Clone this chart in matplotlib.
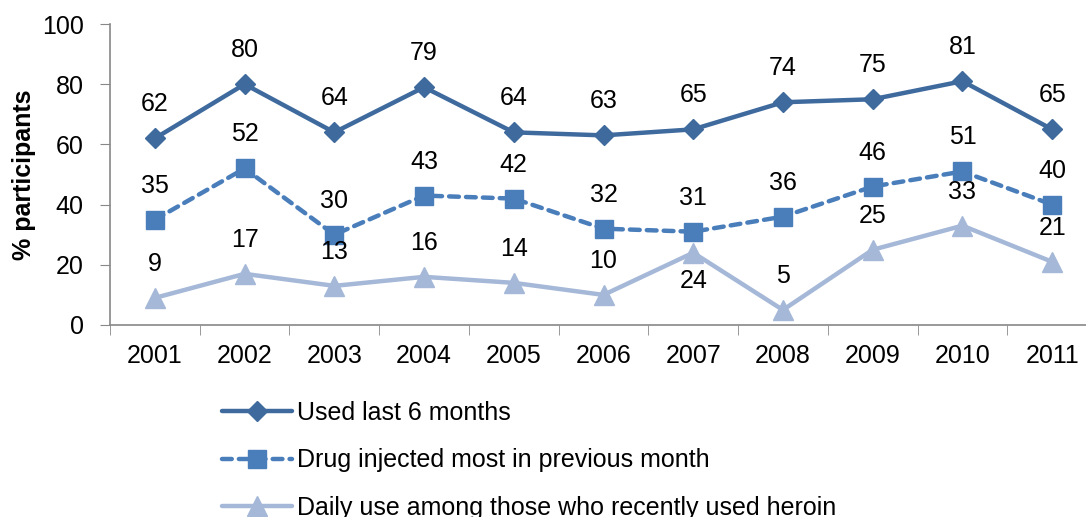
import matplotlib
matplotlib.use("Agg")
import matplotlib.pyplot as plt
from matplotlib.ticker import FixedLocator
import numpy as np

plt.rcParams['font.family'] = ['Liberation Sans', 'DejaVu Sans']

years = ['2001', '2002', '2003', '2004', '2005', '2006', '2007', '2008', '2009', '2010', '2011']
used_6m = [62, 80, 64, 79, 64, 63, 65, 74, 75, 81, 65]
injected = [35, 52, 30, 43, 42, 32, 31, 36, 46, 51, 40]
daily = [9, 17, 13, 16, 14, 10, 24, 5, 25, 33, 21]
daily_below = {'2007'}

names = ['Used last 6 months', 'Drug injected most in previous month',
         'Daily use among those who recently used heroin']
colors = ['#3F6A9E', '#4A7EBB', '#A5B8D8']

FS = 18

fig = plt.figure(figsize=(10.86, 5.17), dpi=100)
W, H = 1086, 517
ax = fig.add_axes([110 / W, 1 - 325 / H, (1097 - 110) / W, 301 / H])

x = np.arange(len(years))
l1, = ax.plot(x, used_6m, color=colors[0], lw=3.2, marker='D', ms=10,
              solid_capstyle='round', clip_on=False)
l2, = ax.plot(x, injected, color=colors[1], lw=3.2, ls=(0, (2.2, 1.6)), marker='s', ms=13,
              dash_capstyle='round', clip_on=False)
l3, = ax.plot(x, daily, color=colors[2], lw=3.2, marker='^', ms=15,
              solid_capstyle='round', clip_on=False)

for xi, v in zip(x, used_6m):
    ax.annotate(str(v), (xi, v), xytext=(0, 34), textcoords='offset pixels',
                ha='center', va='center', fontsize=FS)
for xi, v in zip(x, injected):
    ax.annotate(str(v), (xi, v), xytext=(0, 34), textcoords='offset pixels',
                ha='center', va='center', fontsize=FS)
for xi, yr, v in zip(x, years, daily):
    dy = -28 if yr in daily_below else 34
    ax.annotate(str(v), (xi, v), xytext=(0, dy), textcoords='offset pixels',
                ha='center', va='center', fontsize=FS)

ax.set_xlim(-0.5, len(years) - 0.5)
ax.set_ylim(0, 100)
ax.set_yticks([0, 20, 40, 60, 80, 100])
ax.set_xticks(x)
ax.set_xticklabels(years)
ax.xaxis.set_minor_locator(FixedLocator(np.arange(-0.5, len(years), 1.0)))
ax.tick_params(axis='x', which='major', length=0, pad=14, labelsize=FS)
ax.tick_params(axis='x', which='minor', length=7, color='#888888', direction='out')
ax.tick_params(axis='y', length=7, color='#888888', direction='out', labelsize=FS, pad=12)

for s in ['top', 'right']:
    ax.spines[s].set_visible(False)
for s in ['left', 'bottom']:
    ax.spines[s].set_color('#888888')
    ax.spines[s].set_linewidth(1.2)

ax.set_ylabel('% participants', fontsize=FS, fontweight='bold', labelpad=4)

fig.legend([l1, l2, l3], names, loc='upper left', bbox_to_anchor=(222 / W, 1 - 401 / H),
           frameon=False, fontsize=FS, handlelength=2.8, handletextpad=0.2,
           labelspacing=0.93, borderaxespad=0, borderpad=0)

fig.savefig('out.png', dpi=100)
